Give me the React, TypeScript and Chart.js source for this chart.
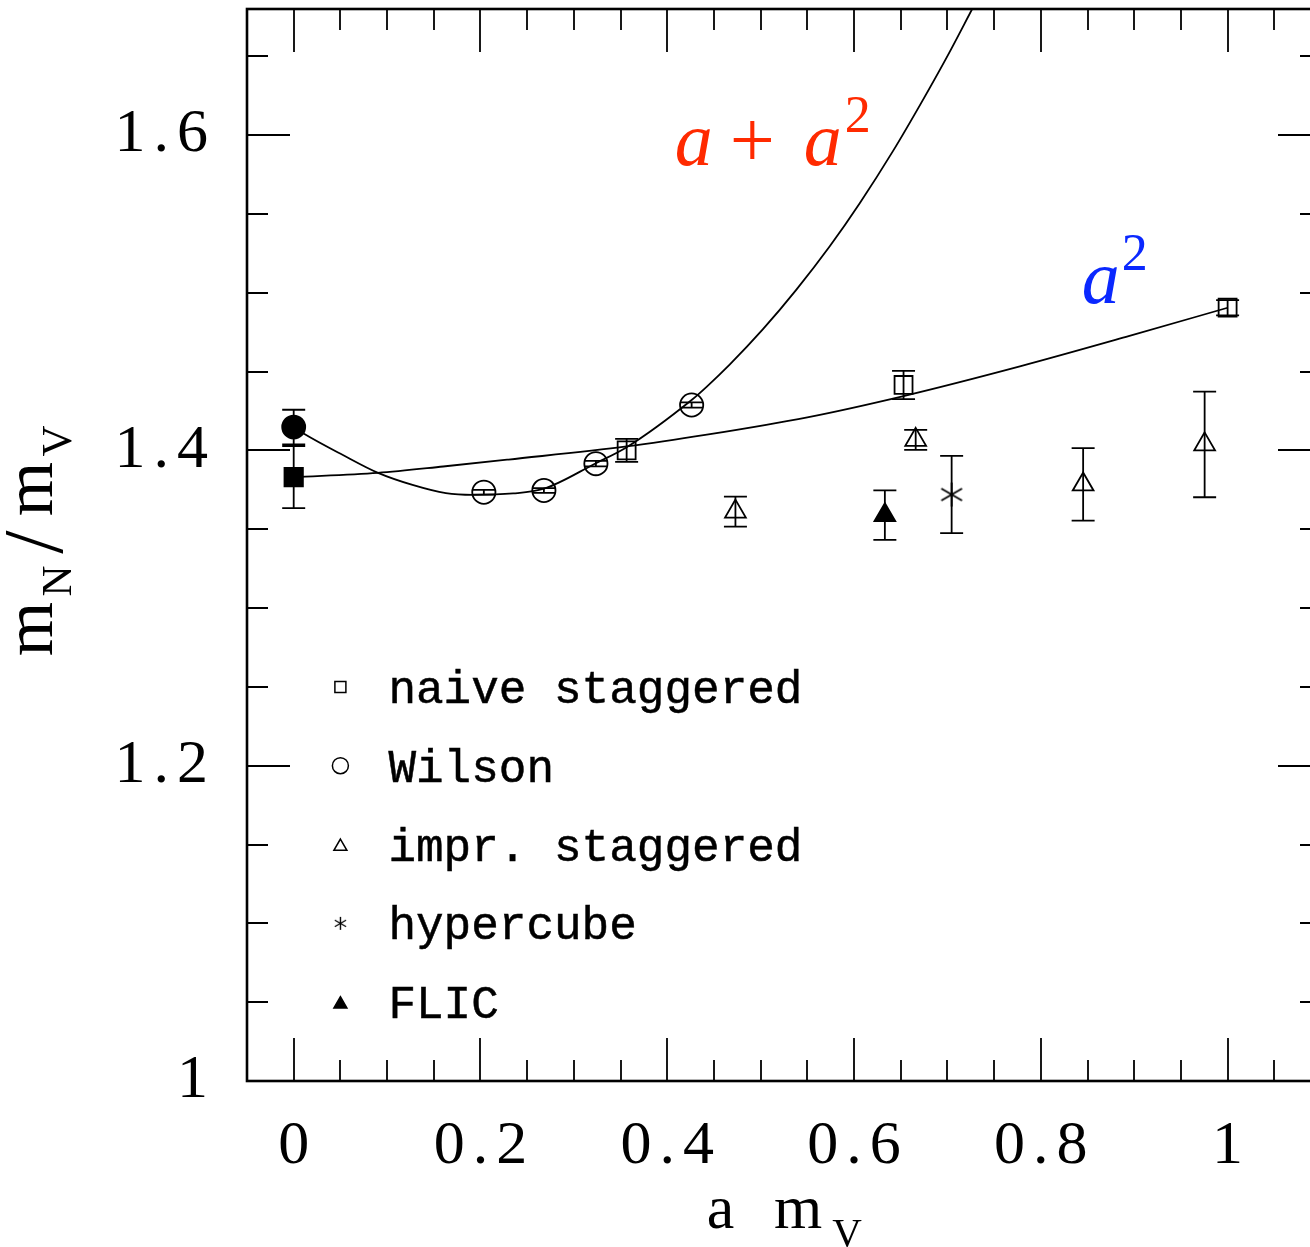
import React, { useEffect, useRef } from "react";
import { Chart, registerables } from "chart.js";

Chart.register(...registerables);

// ---------------- data ----------------
const NAIVE_X = [0.3565, 0.653, 1.0];
const NAIVE_Y = [1.4, 1.4415, 1.4905];
const NAIVE_ERR = [0.0073, 0.009, 0.0048];

const WILSON_X = [0.2036, 0.2679, 0.3236, 0.4261];
const WILSON_Y = [1.3735, 1.3746, 1.3916, 1.4288];
const WILSON_ERR = [0.0015, 0.0015, 0.0017, 0.0017];

const IMPR_X = [0.473, 0.666, 0.8453, 0.9754];
const IMPR_Y = [1.3612, 1.4067, 1.3784, 1.4038];
const IMPR_ERR = [0.0095, 0.0063, 0.023, 0.0335];

const HYPER_X = [0.7045];
const HYPER_Y = [1.372];
const HYPER_ERR = [0.0245];

const FLIC_X = [0.633];
const FLIC_Y = [1.3589];
const FLIC_ERR = [0.0157];

// continuum extrapolations at a m_V = 0
const CONT_CIRCLE_X = [0];
const CONT_CIRCLE_Y = [1.4148];
const CONT_CIRCLE_ERR = [0.011];

const CONT_SQUARE_X = [0];
const CONT_SQUARE_Y = [1.3831];
const CONT_SQUARE_ERR = [0.0197];

// fit curves
const FIT_A_A2_X = [0, 0.0115, 0.0522, 0.0897, 0.1272, 0.1629, 0.1918, 0.235, 0.2679, 0.3236, 0.3565, 0.4261, 0.4424, 0.4668, 0.5025, 0.5383, 0.574, 0.6061, 0.6418, 0.6715, 0.7004, 0.7265];
const FIT_A_A2_Y = [1.4148, 1.4104, 1.3972, 1.3859, 1.3781, 1.3729, 1.3718, 1.3727, 1.3757, 1.3919, 1.402, 1.432, 1.4405, 1.4544, 1.4769, 1.502, 1.5295, 1.5568, 1.59, 1.62, 1.6506, 1.68];

const FIT_A2_X = [0, 0.09, 0.16, 0.23, 0.3565, 0.4424, 0.55, 0.653, 0.7786, 0.894, 1.0];
const FIT_A2_Y = [1.3831, 1.3858, 1.3898, 1.3942, 1.4025, 1.41, 1.421, 1.4345, 1.4535, 1.4725, 1.4905];

// axes
const X_MIN = -0.05;
const X_MAX = 1.1;
const Y_MIN = 1.0;
const Y_MAX = 1.68;
const X_TICKS = [0, 0.2, 0.4, 0.6, 0.8, 1];
const X_TICK_LABELS = ["0", "0.2", "0.4", "0.6", "0.8", "1"];
const X_MINOR_TICKS = [0.05, 0.1, 0.15, 0.25, 0.3, 0.35, 0.45, 0.5, 0.55, 0.65, 0.7, 0.75, 0.85, 0.9, 0.95, 1.05];
const Y_TICKS = [1, 1.2, 1.4, 1.6];
const Y_TICK_LABELS = ["1", "1.2", "1.4", "1.6"];
const Y_MINOR_TICKS = [1.05, 1.1, 1.15, 1.25, 1.3, 1.35, 1.45, 1.5, 1.55, 1.65];

const LEGEND_LABELS = ["naive staggered", "Wilson", "impr. staggered", "hypercube", "FLIC"];

// ---------------- helpers ----------------
const FONT = '"Liberation Serif", "DejaVu Serif", serif';
const MONO = '"Liberation Mono", "DejaVu Sans Mono", monospace';
const RED = "#ff2a00";
const BLUE = "#0a28ff";
const TICK_SPACING = 8;

function pts(xs: number[], ys: number[]) {
  return xs.map((x, i) => ({ x, y: ys[i] }));
}

function makeAsterisk(size: number, lw: number): HTMLCanvasElement {
  const c = document.createElement("canvas");
  c.width = size;
  c.height = size;
  const g = c.getContext("2d")!;
  g.strokeStyle = "#000";
  g.lineWidth = lw;
  g.lineCap = "butt";
  const r = size / 2 - 1;
  g.translate(size / 2, size / 2);
  for (let k = 0; k < 3; k++) {
    const a = Math.PI / 2 + (k * Math.PI) / 3;
    g.beginPath();
    g.moveTo(-r * Math.cos(a), -r * Math.sin(a));
    g.lineTo(r * Math.cos(a), r * Math.sin(a));
    g.stroke();
  }
  return c;
}

const ERROR_SERIES = [
  { x: NAIVE_X, y: NAIVE_Y, e: NAIVE_ERR },
  { x: WILSON_X, y: WILSON_Y, e: WILSON_ERR },
  { x: IMPR_X, y: IMPR_Y, e: IMPR_ERR },
  { x: HYPER_X, y: HYPER_Y, e: HYPER_ERR },
  { x: FLIC_X, y: FLIC_Y, e: FLIC_ERR },
  { x: CONT_CIRCLE_X, y: CONT_CIRCLE_Y, e: CONT_CIRCLE_ERR },
  { x: CONT_SQUARE_X, y: CONT_SQUARE_Y, e: CONT_SQUARE_ERR },
];

function makePlugin(legendStar: HTMLCanvasElement) {
  return {
    id: "decorations",
    beforeDraw(chart: any) {
      chart.ctx.letterSpacing = `${TICK_SPACING}px`;
    },
    beforeDatasetsDraw(chart: any) {
      const ctx: CanvasRenderingContext2D = chart.ctx;
      const { left, right, top, bottom } = chart.chartArea;
      const xs = chart.scales.x;
      const ys = chart.scales.y;
      ctx.save();
      ctx.letterSpacing = "0px";
      ctx.strokeStyle = "#000";
      // tick marks, pointing inwards on all four sides
      const MAJOR = 43;
      const MINOR = 21;
      ctx.lineWidth = 1.8;
      ctx.beginPath();
      const xTick = (v: number, len: number) => {
        const p = Math.round(xs.getPixelForValue(v));
        ctx.moveTo(p, bottom);
        ctx.lineTo(p, bottom - len);
        ctx.moveTo(p, top);
        ctx.lineTo(p, top + len);
      };
      const yTick = (v: number, len: number) => {
        const p = Math.round(ys.getPixelForValue(v));
        ctx.moveTo(left, p);
        ctx.lineTo(left + len, p);
        ctx.moveTo(right, p);
        ctx.lineTo(right - len, p);
      };
      X_TICKS.forEach((v) => xTick(v, MAJOR));
      X_MINOR_TICKS.forEach((v) => xTick(v, MINOR));
      Y_TICKS.forEach((v) => yTick(v, MAJOR));
      Y_MINOR_TICKS.forEach((v) => yTick(v, MINOR));
      ctx.stroke();
      // frame
      ctx.lineWidth = 2.6;
      ctx.strokeRect(left, top, right - left, bottom - top);
      // error bars
      ctx.lineWidth = 1.8;
      const CAP = 11.5;
      ctx.beginPath();
      ERROR_SERIES.forEach((s) => {
        s.x.forEach((xv, i) => {
          const px = xs.getPixelForValue(xv);
          const y1 = ys.getPixelForValue(s.y[i] + s.e[i]);
          const y2 = ys.getPixelForValue(s.y[i] - s.e[i]);
          ctx.moveTo(px, y1);
          ctx.lineTo(px, y2);
          ctx.moveTo(px - CAP, y1);
          ctx.lineTo(px + CAP, y1);
          ctx.moveTo(px - CAP, y2);
          ctx.lineTo(px + CAP, y2);
        });
      });
      ctx.stroke();
      ctx.restore();
    },
    afterDraw(chart: any) {
      const ctx: CanvasRenderingContext2D = chart.ctx;
      const { left, right, top, bottom } = chart.chartArea;
      const xs = chart.scales.x;
      const ys = chart.scales.y;
      ctx.save();
      ctx.letterSpacing = "0px";
      ctx.fillStyle = "#000";
      ctx.strokeStyle = "#000";

      // ---- legend ----
      const mx = xs.getPixelForValue(0.05);
      LEGEND_LABELS.forEach((label, i) => {
        const my = ys.getPixelForValue(1.25 - 0.05 * i);
        ctx.lineWidth = 1.5;
        ctx.beginPath();
        if (i === 0) {
          ctx.rect(mx - 5.5, my - 5.5, 11, 11);
          ctx.stroke();
        } else if (i === 1) {
          ctx.arc(mx, my, 8, 0, Math.PI * 2);
          ctx.stroke();
        } else if (i === 2 || i === 4) {
          const r = 7.5;
          const cy = my + 2;
          ctx.moveTo(mx, cy - r);
          ctx.lineTo(mx + r * Math.sin((2 * Math.PI) / 3), cy + r / 2);
          ctx.lineTo(mx - r * Math.sin((2 * Math.PI) / 3), cy + r / 2);
          ctx.closePath();
          if (i === 4) ctx.fill();
          ctx.stroke();
        } else if (i === 3) {
          ctx.drawImage(legendStar, mx - legendStar.width / 2, my - legendStar.height / 2);
        }
        ctx.font = `46px ${MONO}`;
        ctx.textAlign = "left";
        ctx.textBaseline = "alphabetic";
        ctx.lineWidth = 0.5;
        ctx.fillText(label, mx + 48, my + 16);
        ctx.strokeText(label, mx + 48, my + 16);
      });

      // ---- fit labels ----
      // "a + a^2" in red
      const rx = xs.getPixelForValue(0.408);
      const ry = ys.getPixelForValue(1.581);
      ctx.fillStyle = RED;
      ctx.textAlign = "left";
      ctx.textBaseline = "alphabetic";
      ctx.font = `italic 76px ${FONT}`;
      ctx.fillText("a", rx, ry);
      ctx.font = `80px ${FONT}`;
      ctx.fillText("+", rx + 55, ry + 2);
      ctx.font = `italic 76px ${FONT}`;
      ctx.fillText("a", rx + 129, ry);
      ctx.font = `52px ${FONT}`;
      ctx.fillText("2", rx + 170, ry - 33);

      // "a^2" in blue
      const bx = xs.getPixelForValue(0.8438);
      const by = ys.getPixelForValue(1.4935);
      ctx.fillStyle = BLUE;
      ctx.font = `italic 76px ${FONT}`;
      ctx.fillText("a", bx, by);
      ctx.font = `52px ${FONT}`;
      ctx.fillText("2", bx + 40, by - 33);

      // ---- axis titles ----
      ctx.fillStyle = "#000";
      ctx.textAlign = "center";
      const cx = (left + right) / 2 - 10;
      const tb = bottom + 147;
      ctx.font = `62px ${FONT}`;
      ctx.fillText("a", cx - 53.5, tb);
      ctx.fillText("m", cx + 24, tb);
      ctx.font = `41px ${FONT}`;
      ctx.fillText("V", cx + 73, tb + 18);

      const cy = (top + bottom) / 2 - 4;
      ctx.translate(52, cy);
      ctx.rotate(-Math.PI / 2);
      ctx.font = `70px ${FONT}`;
      ctx.fillText("m", -88, 0);
      ctx.font = `43px ${FONT}`;
      ctx.fillText("N", -40, 19);
      ctx.font = `84px ${FONT}`;
      ctx.fillText("/", -1, 10);
      ctx.font = `70px ${FONT}`;
      ctx.fillText("m", 52, 0);
      ctx.font = `43px ${FONT}`;
      ctx.fillText("V", 100, 19);
      ctx.restore();
      chart.ctx.letterSpacing = "0px";
    },
  };
}

export default function App() {
  const ref = useRef<HTMLCanvasElement>(null);

  useEffect(() => {
    document.body.style.margin = "0";
    document.body.style.overflow = "hidden";
    const canvas = ref.current!;
    const star = makeAsterisk(26, 1.8);
    const legendStar = makeAsterisk(15, 1.4);
    const black = "#000";
    const none = "rgba(0,0,0,0)";
    const marker = (data: any, style: any, radius: number, fill: boolean) => ({
      data,
      showLine: false,
      pointStyle: style,
      pointRadius: radius,
      pointHoverRadius: radius,
      pointBorderWidth: 1.8,
      pointBorderColor: black,
      pointBackgroundColor: fill ? black : none,
      borderColor: black,
      backgroundColor: fill ? black : none,
    });
    const curve = (data: any) => ({
      data,
      showLine: true,
      borderColor: black,
      borderWidth: 1.8,
      pointRadius: 0,
      pointHoverRadius: 0,
      cubicInterpolationMode: "monotone",
      fill: false,
    });
    const noPad = (s: any) => {
      s.paddingTop = 0;
      s.paddingBottom = 0;
      s.paddingLeft = 0;
      s.paddingRight = 0;
    };

    const chart = new Chart(canvas, {
      type: "scatter",
      data: {
        datasets: [
          curve(pts(FIT_A_A2_X, FIT_A_A2_Y)),
          curve(pts(FIT_A2_X, FIT_A2_Y)),
          marker(pts(NAIVE_X, NAIVE_Y), "rect", 12.7, false),
          marker(pts(WILSON_X, WILSON_Y), "circle", 11.6, false),
          marker(pts(IMPR_X, IMPR_Y), "triangle", 12, false),
          marker(pts(HYPER_X, HYPER_Y), star, 13, false),
          marker(pts(FLIC_X, FLIC_Y), "triangle", 12, true),
          marker(pts(CONT_CIRCLE_X, CONT_CIRCLE_Y), "circle", 11.5, true),
          marker(pts(CONT_SQUARE_X, CONT_SQUARE_Y), "rect", 13, true),
        ] as any,
      },
      options: {
        responsive: false,
        animation: false,
        events: [],
        layout: { autoPadding: false, padding: { top: 9, right: 9, left: 0, bottom: 0 } },
        plugins: { legend: { display: false }, tooltip: { enabled: false } },
        scales: {
          x: {
            type: "linear",
            min: X_MIN,
            max: X_MAX,
            grid: { display: false },
            border: { display: false },
            afterBuildTicks: (s: any) => {
              s.ticks = X_TICKS.map((v) => ({ value: v }));
            },
            afterFit: (s: any) => {
              s.height = 166;
              noPad(s);
            },
            ticks: {
              autoSkip: false,
              maxRotation: 0,
              padding: 21,
              labelOffset: TICK_SPACING / 2,
              color: "#000",
              font: { family: FONT, size: 62, lineHeight: 1.2 },
              callback: (v: any) => X_TICK_LABELS[X_TICKS.indexOf(Number(v))] ?? "",
            },
          },
          y: {
            type: "linear",
            min: Y_MIN,
            max: Y_MAX,
            grid: { display: false },
            border: { display: false },
            afterBuildTicks: (s: any) => {
              s.ticks = Y_TICKS.map((v) => ({ value: v }));
            },
            afterFit: (s: any) => {
              s.width = 247;
              noPad(s);
            },
            ticks: {
              autoSkip: false,
              padding: 23,
              color: "#000",
              font: { family: FONT, size: 62, lineHeight: 1.2 },
              callback: (v: any) => Y_TICK_LABELS[Y_TICKS.indexOf(Number(v))] ?? "",
            },
          },
        },
      } as any,
      plugins: [makePlugin(legendStar)],
    });
    return () => chart.destroy();
  }, []);

  return (
    <div style={{ width: 1310, height: 1247, overflow: "hidden", position: "relative" }}>
      <canvas ref={ref} width={1330} height={1247} style={{ display: "block" }} />
    </div>
  );
}
